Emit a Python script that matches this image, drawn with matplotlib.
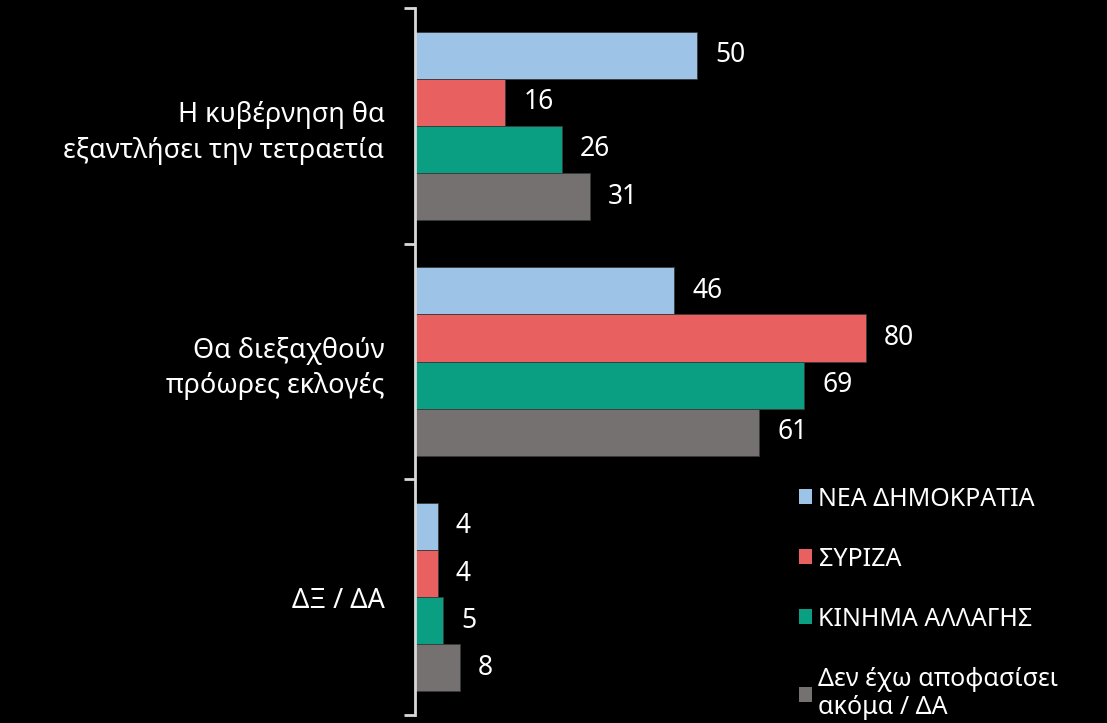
import numpy as np
import matplotlib.pyplot as plt
from matplotlib.patches import Patch

plt.rcParams['font.family'] = ['Noto Sans', 'DejaVu Sans']

categories = ['Η κυβέρνηση θα\nεξαντλήσει την τετραετία',
              'Θα διεξαχθούν\nπρόωρες εκλογές',
              'ΔΞ / ΔΑ']
series = ['ΝΕΑ ΔΗΜΟΚΡΑΤΙΑ', 'ΣΥΡΙΖΑ', 'ΚΙΝΗΜΑ ΑΛΛΑΓΗΣ',
          'Δεν έχω αποφασίσει\nακόμα / ΔΑ']
nd = [50, 46, 4]
syriza = [16, 80, 4]
kinal = [26, 69, 5]
undecided = [31, 61, 8]
values = [nd, syriza, kinal, undecided]
colors = ['#9DC3E6', '#E96061', '#0A9E82', '#767171']

fig = plt.figure(figsize=(11.07, 7.23), dpi=100, facecolor='black')
ax = fig.add_axes([415/1107, 8/723, 692/1107, 707/723])
ax.set_facecolor('black')

y = np.arange(len(categories))
h = 0.2
for i, (vals, c) in enumerate(zip(values, colors)):
    pos = y + (i - 1.5) * h
    ax.barh(pos, vals, height=h, color=c, edgecolor='#3a3a3a', linewidth=0.6)
    for p, v in zip(pos, vals):
        ax.annotate(str(v), (v, p), xytext=(13, 0), textcoords='offset points',
                    va='center', ha='left', color='white', fontsize=19)

ax.set_xlim(0, 122.7)
ax.set_ylim(2.5, -0.5)
ax.set_xticks([])
ax.set_yticks(y)
ax.set_yticklabels(categories, fontsize=19.5, color='white', ha='right',
                   linespacing=1.35)
ax.tick_params(axis='y', which='major', length=0, pad=22)
ax.set_yticks([-0.5, 0.5, 1.5, 2.5], minor=True)
ax.tick_params(axis='y', which='minor', length=8, width=2, color='#D9D9D9')
for s in ['top', 'right', 'bottom']:
    ax.spines[s].set_visible(False)
ax.spines['left'].set_color('#D9D9D9')
ax.spines['left'].set_linewidth(2)

handles = [Patch(facecolor=c, label=s) for c, s in zip(colors, series)]
leg = fig.legend(handles=handles, loc='lower left', bbox_to_anchor=(796/1107, 0.0),
                 frameon=False, fontsize=18, labelcolor='white',
                 handlelength=0.55, handleheight=0.55, handletextpad=0.25,
                 labelspacing=1.4, borderaxespad=0.0, borderpad=0.1)

fig.savefig('out.png', dpi=100, facecolor='black')
